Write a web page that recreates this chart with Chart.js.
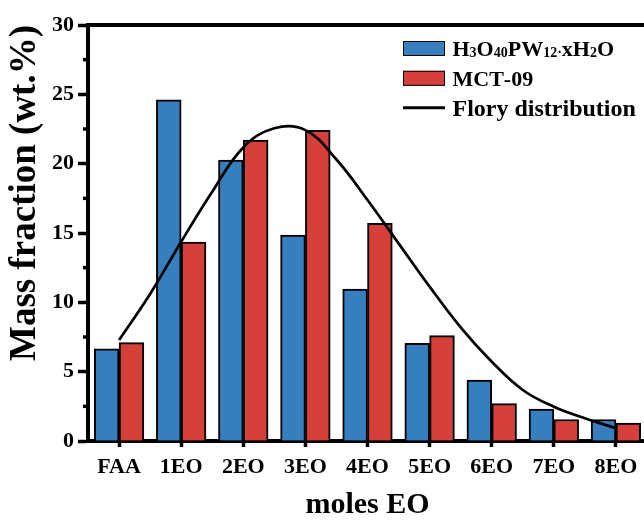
<!DOCTYPE html>
<html>
<head>
<meta charset="utf-8">
<script src="https://cdn.jsdelivr.net/npm/chart.js@4/dist/chart.umd.min.js"></script>
<style>
  html, body { margin: 0; padding: 0; background: #fff; overflow: hidden; }
  #wrap { width: 652px; height: 523px; position: relative; }
</style>
</head>
<body>
<div id="wrap"><canvas id="eo-chart"></canvas></div>
<script>
// Categories and values
const categories = ['FAA', '1EO', '2EO', '3EO', '4EO', '5EO', '6EO', '7EO', '8EO'];
const hpwValues = [6.65, 24.6, 20.25, 14.85, 10.95, 7.05, 4.4, 2.3, 1.55];
const mctValues = [7.1, 14.35, 21.7, 22.4, 15.7, 7.6, 2.7, 1.55, 1.3];

// Flory curve at half-category steps
const floryX = [0, 0.5, 1, 1.5, 2, 2.5, 3, 3.5, 4, 4.5, 5, 5.5, 6, 6.5, 7, 7.5, 8];
const floryY = [7.28, 10.6, 14.37, 17.97, 21.17, 22.55, 22.42, 20.3, 17.38, 14.25, 11.13, 8.2, 5.72, 3.68, 2.47, 1.64, 0.92];

const yTicks = [0, 5, 10, 15, 20, 25, 30];
const legendLabels = ['H₃O₄₀PW₁₂·xH₂O', 'MCT-09', 'Flory distribution'];

const BLUE = '#377EBE';
const RED = '#D5403A';
const FONT = "'Liberation Serif', 'Times New Roman', serif";

Chart.defaults.font.family = FONT;
Chart.defaults.color = '#000';

/**
 * Draw a label, turning unicode subscript digits into small lowered text
 */
function drawRichText(ctx, text, x, baseline, size) {
    const subs = '₀₁₂₃₄₅₆₇₈₉';
    let cx = x;
    for (const ch of text) {
        const idx = subs.indexOf(ch);
        const isSub = idx >= 0 || ch === '·';
        const glyph = idx >= 0 ? String(idx) : ch;
        ctx.font = `bold ${isSub ? Math.round(size * 0.62) : size}px ${FONT}`;
        ctx.fillText(glyph, cx, baseline + (isSub ? 1.5 : 0));
        cx += ctx.measureText(glyph).width;
    }
}

// Frame, minor ticks and legend
const decorPlugin = {
    id: 'decor',
    afterDraw(chart) {
        const ctx = chart.ctx;
        const area = chart.chartArea;
        const yScale = chart.scales.y;
        ctx.save();

        // top and right frame lines
        ctx.strokeStyle = '#000';
        ctx.lineWidth = 4;
        ctx.beginPath();
        ctx.moveTo(area.left - 2, area.top);
        ctx.lineTo(area.right, area.top);
        ctx.lineTo(area.right, area.bottom);
        ctx.stroke();

        // minor ticks on the y axis
        ctx.lineWidth = 3.5;
        for (let v = 2.5; v < 30; v += 5) {
            const py = yScale.getPixelForValue(v);
            ctx.beginPath();
            ctx.moveTo(area.left - 5, py);
            ctx.lineTo(area.left, py);
            ctx.stroke();
        }

        // legend
        const boxX = 403, boxW = 42, boxH = 15, textX = 452.5;
        const rows = [48.5, 78.3, 107.7];
        const sizes = [22, 22, 24];
        const kinds = [{ type: 'box', color: BLUE }, { type: 'box', color: RED }, { type: 'line' }];
        ctx.textBaseline = 'alphabetic';
        ctx.textAlign = 'left';
        rows.forEach((cy, i) => {
            const k = kinds[i];
            if (k.type === 'box') {
                ctx.fillStyle = k.color;
                ctx.fillRect(boxX, cy - boxH / 2, boxW, boxH);
                ctx.lineWidth = 1;
                ctx.strokeStyle = '#000';
                ctx.strokeRect(boxX + 0.5, cy - boxH / 2 + 0.5, boxW - 1, boxH - 1);
            } else {
                ctx.lineWidth = 3;
                ctx.strokeStyle = '#000';
                ctx.beginPath();
                ctx.moveTo(boxX, cy);
                ctx.lineTo(boxX + boxW, cy);
                ctx.stroke();
            }
            ctx.fillStyle = '#000';
            drawRichText(ctx, legendLabels[i], textX, cy + sizes[i] * 0.34, sizes[i]);
        });
        ctx.restore();
    }
};

function renderChart() {
    const ctx = document.getElementById('eo-chart').getContext('2d');

    const barStyle = {
        borderColor: '#000',
        borderWidth: 2,
        borderSkipped: 'start',
        barThickness: 24.8,
        order: 1
    };

    new Chart(ctx, {
        type: 'bar',
        data: {
            labels: categories,
            datasets: [
                {
                    type: 'line',
                    label: legendLabels[2],
                    data: floryX.map((x, i) => ({ x: x, y: floryY[i] })),
                    xAxisID: 'x2',
                    borderColor: '#000',
                    borderWidth: 2.7,
                    pointRadius: 0,
                    tension: 0.4,
                    fill: false,
                    order: 0
                },
                Object.assign({ label: legendLabels[0], data: hpwValues, backgroundColor: BLUE }, barStyle),
                Object.assign({ label: legendLabels[1], data: mctValues, backgroundColor: RED }, barStyle)
            ]
        },
        options: {
            responsive: true,
            maintainAspectRatio: false,
            animation: false,
            layout: {
                padding: { top: 25, right: 5, left: 0, bottom: 0 }
            },
            plugins: {
                legend: { display: false },
                tooltip: { enabled: false }
            },
            scales: {
                x: {
                    type: 'category',
                    offset: true,
                    afterFit: scale => { scale.height = 82; },
                    grid: {
                        offset: false,
                        drawOnChartArea: false,
                        drawTicks: true,
                        tickLength: 6,
                        tickWidth: 3.5,
                        tickColor: '#000'
                    },
                    border: { display: true, color: '#000', width: 4 },
                    ticks: {
                        font: { size: 22, weight: 'bold' },
                        color: '#000',
                        padding: 7,
                        maxRotation: 0,
                        autoSkip: false
                    },
                    title: {
                        display: true,
                        text: 'moles EO',
                        font: { size: 30, weight: 'bold', lineHeight: 1 },
                        color: '#000',
                        padding: { top: 0, bottom: 3 }
                    }
                },
                // hidden linear twin of the category axis, used by the curve
                x2: {
                    type: 'linear',
                    display: false,
                    offset: false,
                    grid: { offset: false },
                    bounds: 'data',
                    min: -0.5,
                    max: 8.5
                },
                y: {
                    min: 0,
                    max: 30,
                    afterFit: scale => { scale.width = 88; },
                    afterBuildTicks: scale => {
                        scale.ticks = yTicks.map(v => ({ value: v }));
                    },
                    grid: {
                        drawOnChartArea: false,
                        drawTicks: true,
                        tickLength: 10,
                        tickWidth: 3.5,
                        tickColor: '#000'
                    },
                    border: { display: true, color: '#000', width: 4 },
                    ticks: {
                        font: { size: 22, weight: 'bold' },
                        color: '#000',
                        padding: 4
                    },
                    title: {
                        display: true,
                        text: 'Mass fraction (wt.%)',
                        align: 'end',
                        font: { size: 37, weight: 'bold', lineHeight: 1 },
                        color: '#000',
                        padding: { top: 7, bottom: 0 }
                    }
                }
            }
        },
        plugins: [decorPlugin]
    });
}

document.addEventListener('DOMContentLoaded', renderChart);
</script>
</body>
</html>
